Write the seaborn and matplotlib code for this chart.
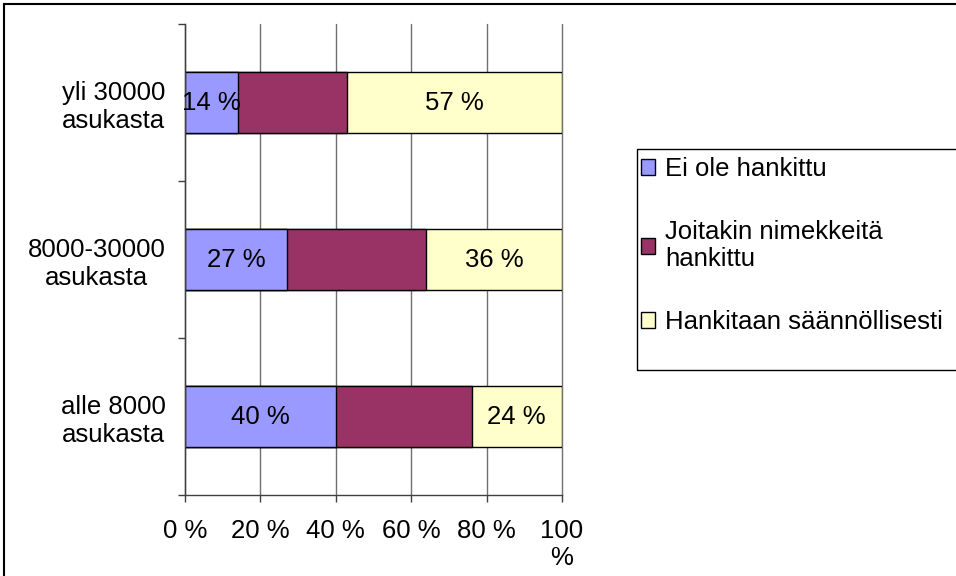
import pandas as pd
import seaborn as sns
import matplotlib.pyplot as plt
from matplotlib.patches import Patch, Rectangle

# data
categories = ["yli 30000\nasukasta", "8000-30000\nasukasta", "alle 8000\nasukasta"]
ei_ole = [14, 27, 40]
joitakin = [29, 37, 36]
saannollisesti = [57, 36, 24]
series_names = ["Ei ole hankittu", "Joitakin nimekkeitä\nhankittu", "Hankitaan säännöllisesti"]
colors = ["#9999FF", "#993366", "#FFFFCC"]
xticks = [0, 20, 40, 60, 80, 100]
xtick_labels = ["0 %", "20 %", "40 %", "60 %", "80 %", "100\n%"]

FS = 18.5

sns.set_theme(style="white")
plt.rcParams["font.family"] = ["Liberation Sans", "DejaVu Sans"]
plt.rcParams["font.size"] = FS
plt.rcParams["text.color"] = "black"
plt.rcParams["xtick.color"] = "black"
plt.rcParams["ytick.color"] = "black"
plt.rcParams["xtick.labelcolor"] = "black"
plt.rcParams["ytick.labelcolor"] = "black"

df = pd.DataFrame({"kunta": categories, "ei": ei_ole, "joit": joitakin, "saan": saannollisesti})
df["c1"] = df["ei"]
df["c2"] = df["ei"] + df["joit"]
df["c3"] = df["c2"] + df["saan"]

fig = plt.figure(figsize=(9.56, 5.76), dpi=100)
ax = fig.add_axes([185 / 956, 1 - 495 / 576, 377 / 956, 471 / 576])

# stacked bars: draw the cumulative totals from the back to the front
for col, color in zip(["c3", "c2", "c1"], colors[::-1]):
    sns.barplot(data=df, x=col, y="kunta", orient="h", color=color, saturation=1,
                width=0.39, edgecolor="black", linewidth=1, errorbar=None, ax=ax)

# value labels for first and last segment
for i in range(len(categories)):
    ax.text(df["ei"][i] / 2, i, f"{ei_ole[i]} %", ha="center", va="center", fontsize=FS, color="black")
    ax.text(df["c2"][i] + df["saan"][i] / 2, i, f"{saannollisesti[i]} %",
            ha="center", va="center", fontsize=FS, color="black")

ax.set_xlim(0, 100)
ax.set_ylim(2.5, -0.5)
ax.set_xlabel("")
ax.set_ylabel("")
ax.set_axisbelow(True)
ax.xaxis.grid(True, color="#707070", linewidth=1)
ax.yaxis.grid(False)

ax.set_xticks(xticks)
ax.set_xticklabels(xtick_labels, fontsize=FS)
ax.tick_params(axis="x", direction="out", length=5, width=1, color="#404040", pad=12, bottom=True)
for line in ax.get_xgridlines():
    line.set_clip_on(False)

ax.set_yticks([-0.5, 0.5, 1.5, 2.5])
ax.set_yticklabels([])
ax.tick_params(axis="y", which="major", direction="out", length=5, width=1, color="#404040", left=True)
ax.set_yticks(range(len(categories)), minor=True)
ax.set_yticklabels(categories, minor=True, fontsize=FS)
ax.tick_params(axis="y", which="minor", length=0, pad=14)
for lab in ax.get_yticklabels(minor=True):
    lab.set_multialignment("center")

for side in ["top", "right"]:
    ax.spines[side].set_visible(False)
for side in ["left", "bottom"]:
    ax.spines[side].set_color("#404040")
    ax.spines[side].set_linewidth(1)

# legend with a frame running off the right edge like the original
fig.patches.append(Rectangle((637 / 956, 1 - 370 / 576), 0.4, 221 / 576, transform=fig.transFigure,
                             fill=False, edgecolor="black", linewidth=1))
handles = [Patch(facecolor=c, edgecolor="black", linewidth=1) for c in colors]
fig.legend(handles, series_names, loc="upper left", bbox_to_anchor=(641 / 956, 1 - 157 / 576),
           frameon=False, fontsize=FS, handlelength=0.55, handleheight=0.55, handletextpad=0.4,
           labelspacing=1.5, borderpad=0, borderaxespad=0)

# outer chart border
fig.patches.append(Rectangle((4 / 956, -0.02), 1.0, 1 - 4 / 576 + 0.02, transform=fig.transFigure,
                             fill=False, edgecolor="black", linewidth=1.5))

fig.savefig("out.png", dpi=100)
